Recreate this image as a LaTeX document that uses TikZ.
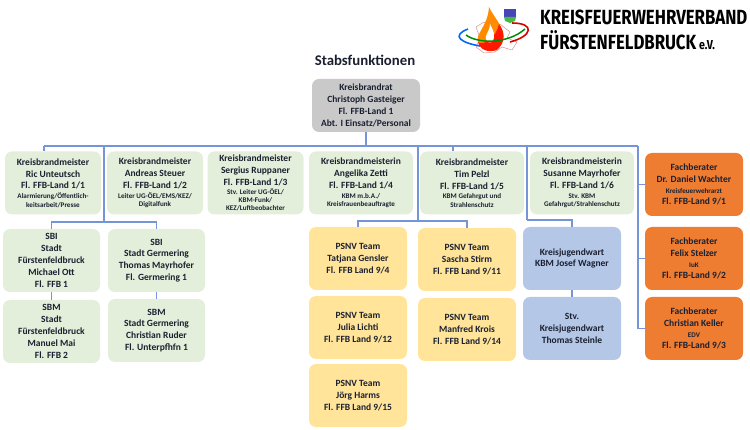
\documentclass[tikz,border=0pt]{standalone}
\usepackage{fontspec}
\setmainfont{Carlito}
\newfontfamily\logofont{Fira Sans}
\usepackage{xcolor}
\usetikzlibrary{calc,positioning}
\definecolor{lineblue}{HTML}{7595D8}
\definecolor{boxgray}{HTML}{C9C9C9}
\definecolor{boxgreen}{HTML}{E3EFDA}
\definecolor{boxyellow}{HTML}{FFE49A}
\definecolor{boxblue}{HTML}{B4C7E7}
\definecolor{boxorange}{HTML}{EE7D31}
\definecolor{inktext}{HTML}{1A2030}
\newcommand{\smalltxt}[1]{{\fontsize{7.1}{9.5}\selectfont #1}}
\tikzset{
  box/.style={rounded corners=7pt,align=center,inner sep=0pt,text=inktext,minimum height=63pt,
    font=\fontsize{9.5}{11.8}\selectfont\bfseries},
  chief/.style={box,fill=boxgray,minimum width=108pt,minimum height=53pt},
  kbm/.style={box,fill=boxgreen,minimum width=96pt},
  kbmwide/.style={box,fill=boxgreen,minimum width=104pt},
  psnv/.style={box,fill=boxyellow,minimum width=98pt},
  youth/.style={box,fill=boxblue,minimum width=98pt},
  advisor/.style={box,fill=boxorange,minimum width=98pt},
  conn/.style={draw=lineblue,line width=1.1pt}
}
\begin{document}
\begin{tikzpicture}[x=1pt,y=-1pt]
  \useasboundingbox (0,0) rectangle (750,430);
  % logo
  \draw[red!45!gray!60,line width=0.5pt,line join=round] (476,27) -- (484,22) -- (492,28) -- (500,24) -- (510,32) -- (507,38) -- (517,42) -- (512,50) -- (502,47) -- (495,52) -- (484,53) -- (476,47) -- (480,38) -- cycle;
  \fill[orange!90!yellow] (489,7) .. controls (494,18) and (505,27) .. (503,40) .. controls (501,50) and (482,52) .. (478,42) .. controls (475,34) and (488,26) .. (489,7);
  \fill[red!80!orange] (499,24) .. controls (505,32) and (506,42) .. (497,50) .. controls (488,53) and (480,50) .. (478,42) .. controls (484,46) and (496,38) .. (499,24);
  \fill[white] (490,24) .. controls (494,32) and (496,36) .. (492,42) .. controls (488,44) and (485,40) .. (486,36) .. controls (487,32) and (490,30) .. (490,24);
  \draw[green!55!black,line width=1.5pt] (466,35) .. controls (478,44) and (508,44) .. (525,29);
  \draw[blue!60!cyan,line width=1.6pt] (468,29) .. controls (450,36) and (462,43) .. (480,46);
  \draw[red!85!black,line width=1.6pt] (512,23) .. controls (535,23) and (533,36) .. (510,42);
  \fill[blue!45!gray] (504,9) rectangle (516,17);
  \fill[green!45!gray] (504,17) -- (516,17) -- (515,21) -- (510,23) -- (505,21) -- cycle;
  \node[font=\logofont\bfseries\fontsize{20.5}{21}\selectfont,xscale=0.82,anchor=west,inner sep=0pt] (logoOne) at (540,17.5) {KREISFEUERWEHRVERBAND};
  \node[font=\logofont\bfseries\fontsize{20.5}{21}\selectfont,xscale=0.82,anchor=west,inner sep=0pt] (logoTwo) at (540,40) {FÜRSTENFELDBRUCK\,{\fontsize{13}{13}\selectfont e.V.}};
  % title
  \node[font=\fontsize{14.8}{16}\selectfont\bfseries,text=inktext] (title) at (365,60) {Stabsfunktionen};
  % top
  \node[chief] (chief) at (366,105.5) {Kreisbrandrat\\Christoph Gasteiger\\Fl. FFB-Land 1\\Abt. I Einsatz/Personal};
  % row one
  \node[kbm] (ric) at (53,183) {Kreisbrandmeister\\Ric Unteutsch\\Fl. FFB-Land 1/1\\[-2pt]\smalltxt{Alarmierung/Öffentlich-}\\[-3.5pt]\smalltxt{keitsarbeit/Presse}};
  \node[kbm] (andreas) at (155,183) {Kreisbrandmeister\\Andreas Steuer\\Fl. FFB-Land 1/2\\[-2pt]\smalltxt{Leiter UG-ÖEL/EMS/KEZ/}\\[-3.5pt]\smalltxt{Digitalfunk}};
  \node[kbm] (sergius) at (255.5,183) {Kreisbrandmeister\\Sergius Ruppaner\\Fl. FFB-Land 1/3\\[-2.5pt]\smalltxt{Stv. Leiter UG-ÖEL/}\\[-3.5pt]\smalltxt{KBM-Funk/}\\[-3.5pt]\smalltxt{KEZ/Luftbeobachter}};
  \node[kbmwide] (angelika) at (361,183) {Kreisbrandmeisterin\\Angelika Zetti\\Fl. FFB-Land 1/4\\[-2pt]\smalltxt{KBM m.b.A./}\\[-3.5pt]\smalltxt{Kreisfrauenbeauftragte}};
  \node[kbmwide] (tim) at (472,183) {Kreisbrandmeister\\Tim Pelzl\\Fl. FFB-Land 1/5\\[-2pt]\smalltxt{KBM Gefahrgut und}\\[-3.5pt]\smalltxt{Strahlenschutz}};
  \node[kbmwide] (susanne) at (582,183) {Kreisbrandmeisterin\\Susanne Mayrhofer\\Fl. FFB-Land 1/6\\[-2pt]\smalltxt{Stv. KBM}\\[-3.5pt]\smalltxt{Gefahrgut/Strahlenschutz}};
  % left columns
  \node[kbm,minimum width=97pt] (ott) at (51.5,260.5) {SBI\\Stadt\\Fürstenfeldbruck\\Michael Ott\\Fl. FFB 1};
  \node[kbm,minimum width=97pt] (mai) at (51.5,331.5) {SBM\\Stadt\\Fürstenfeldbruck\\Manuel Mai\\Fl. FFB 2};
  \node[kbm,minimum width=97pt] (thomas) at (156.5,260.5) {SBI\\Stadt Germering\\Thomas Mayrhofer\\Fl. Germering 1};
  \node[kbm,minimum width=97pt] (ruder) at (156.5,330.5) {SBM\\Stadt Germering\\Christian Ruder\\Fl. Unterpfhfn 1};
  % psnv
  \node[psnv] (tatjana) at (358,258.5) {PSNV Team\\Tatjana Gensler\\Fl. FFB Land 9/4};
  \node[psnv] (julia) at (358,327.5) {PSNV Team\\Julia Lichti\\Fl. FFB Land 9/12};
  \node[psnv] (joerg) at (358,395.5) {PSNV Team\\Jörg Harms\\Fl. FFB Land 9/15};
  \node[psnv] (sascha) at (467,259.5) {PSNV Team\\Sascha Stirm\\Fl. FFB Land 9/11};
  \node[psnv] (manfred) at (467,329.5) {PSNV Team\\Manfred Krois\\Fl. FFB Land 9/14};
  % youth
  \node[youth] (wagner) at (572,258.5) {Kreisjugendwart\\KBM Josef Wagner};
  \node[youth] (steinle) at (572,328.5) {Stv.\\Kreisjugendwart\\Thomas Steinle};
  % advisors
  \node[advisor] (wachter) at (694,184.5) {Fachberater\\Dr. Daniel Wachter\\[-1pt]\smalltxt{Kreisfeuerwehrarzt}\\[-1pt]Fl. FFB-Land 9/1};
  \node[advisor] (stelzer) at (694,258.5) {Fachberater\\Felix Stelzer\\[-1pt]\smalltxt{IuK}\\[-1pt]Fl. FFB-Land 9/2};
  \node[advisor] (keller) at (694,328.5) {Fachberater\\Christian Keller\\[-1pt]\smalltxt{EDV}\\[-1pt]Fl. FFB-Land 9/3};
  % bus
  \coordinate (busL) at (44,146);
  \coordinate (busR) at (638,146);
  \coordinate (tapA) at (104,222);
  \coordinate (tapB) at (418,221);
  \coordinate (tapC) at (527,220);
  \coordinate (tapT) at (453,146);
  \draw[conn] (busL) -- (busR);
  \draw[conn] (chief.south) -- (chief.south |- busL);
  \draw[conn] (busL) -- (busL |- ric.north);
  \draw[conn] (tapT) -- (tapT |- tim.north);
  \draw[conn] (tapA |- busL) -- (tapA);
  \draw[conn] (tapB |- busL) -- (tapB);
  \draw[conn] (tapC |- busL) -- (tapC);
  \draw[conn] (ott.north) -- (ott.north |- tapA) -- (thomas.north |- tapA) -- (thomas.north);
  \draw[conn] (tatjana.north) -- (tatjana.north |- tapB) -- (sascha.north |- tapB) -- (sascha.north);
  \draw[conn] (tapC) -- (wagner.north |- tapC) -- (wagner.north);
  \draw[conn] (ott.south) -- (ott.south |- mai.north);
  \draw[conn] (thomas.south) -- (thomas.south |- ruder.north);
  \draw[conn] (wagner.south) -- (steinle.north);
  \draw[conn] (busR) |- (keller.west);
  \draw[conn] (busR |- wachter.west) -- (wachter.west);
  \draw[conn] (busR |- stelzer.west) -- (stelzer.west);
\end{tikzpicture}
\end{document}
